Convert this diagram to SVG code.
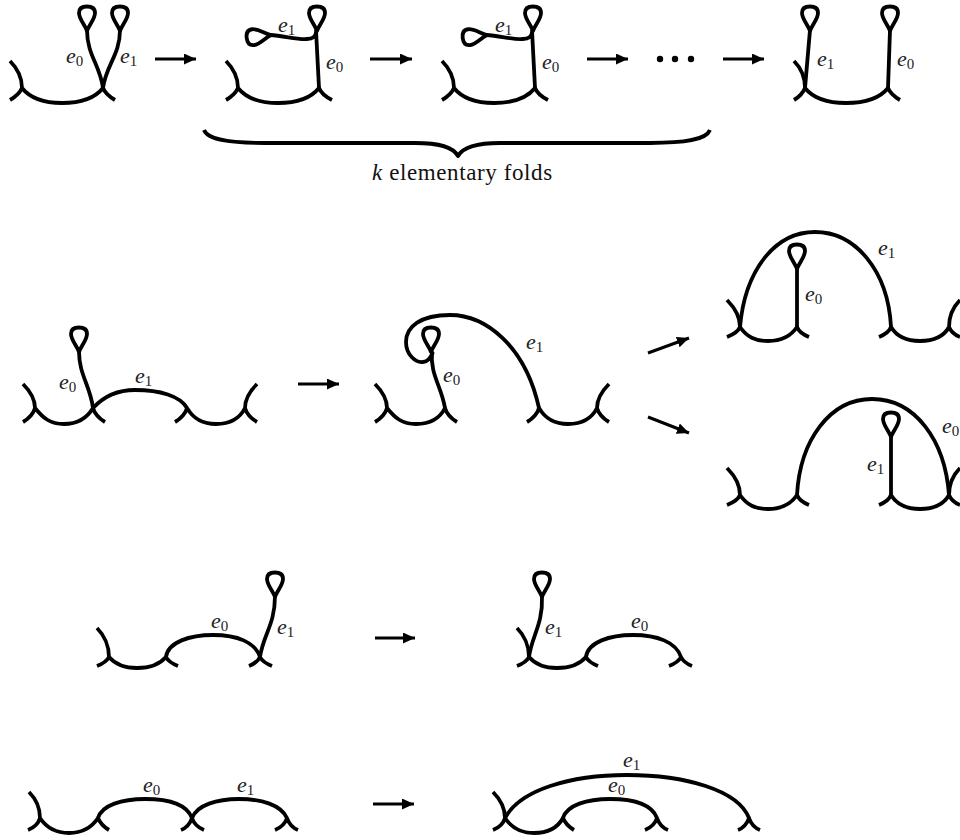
<svg xmlns="http://www.w3.org/2000/svg" width="960" height="840" viewBox="0 0 960 840">
<style>
.c{fill:none;stroke:#000;stroke-width:3.8;stroke-linecap:butt;stroke-linejoin:round}
.a{fill:none;stroke:#000;stroke-width:3;marker-end:url(#h)}
text{font-family:"Liberation Serif","Times New Roman",serif;fill:#222}
.l{font-size:22px;font-style:italic}
.l tspan{font-size:15px;font-style:normal}
.t{font-size:23px;letter-spacing:.6px;fill:#111}
</style>
<defs>
<marker id="h" markerUnits="userSpaceOnUse" markerWidth="13" markerHeight="12" refX="12" refY="5.5" orient="auto"><path d="M0,0L12,5.5L0,11Z" fill="#000"/></marker>
<path id="v" d="M0,0C-2,-6 -8,-12 -8,-18C-8,-23 -5,-24.500 0,-24.500C5,-24.500 8,-23 8,-18C8,-12 2,-6 0,0Z" class="c"/>
</defs>
<g id="connectors">
<path class="a" d="M155,59H196"/><path class="a" d="M370,59H412"/><path class="a" d="M587,59H628"/><path class="a" d="M723,59H764"/>
<path class="a" d="M298,384H339"/><path class="a" d="M648,353L689,338"/><path class="a" d="M648,417L689,433"/>
<path class="a" d="M375,638H415"/><path class="a" d="M373,804H414"/>
</g>
<g id="dots"><circle cx="660" cy="59" r="3.2"/><circle cx="675" cy="59" r="3.2"/><circle cx="691" cy="59" r="3.2"/></g>
<g id="brace"><path class="c" d="M204,130C208,140 230,143 265,143H415C440,143 453,147 458,156C463,147 476,143 500,143H650C685,143 706,140 710,130"/>
<text class="t" x="372" y="180"><tspan font-style="italic">k</tspan> elementary folds</text></g>

<g id="n1">
<path class="c" d="M10,61C17,68 22,77 22,88M10,100C15,97 20,93 22,88C30,98 42,103 62,103C82,103 95,98 103,88C105,93 110,97 115,100"/>
<path class="c" d="M103,88C100,65 87,55 87,30M103,88C106,65 120,55 120,30"/>
<use href="#v" x="87" y="31"/><use href="#v" x="120" y="31"/>
<text class="l" x="66" y="63">e<tspan dy="3">0</tspan></text><text class="l" x="120" y="63">e<tspan dy="3">1</tspan></text>
</g>
<g id="n2">
<path class="c" d="M226,61C233,68 238,77 238,88M226,100C231,97 236,93 238,88C246,98 258,103 278,103C298,103 311,98 319,88C321,93 326,97 332,100"/>
<path class="c" d="M319,88L316,30M270,35C285,36 298,40 307,39C313,39 316,36 316,32"/>
<use href="#v" x="317" y="31"/><use href="#v" transform="translate(271,35) rotate(-97)"/>
<text class="l" x="278" y="32">e<tspan dy="3">1</tspan></text><text class="l" x="326" y="69">e<tspan dy="3">0</tspan></text>
</g>
<g id="n3">
<path class="c" d="M442,61C449,68 454,77 454,88M442,100C447,97 452,93 454,88C462,98 474,103 494,103C514,103 527,98 535,88C537,93 542,97 548,100"/>
<path class="c" d="M535,88L532,30M486,35C501,36 514,40 523,39C529,39 532,36 532,32"/>
<use href="#v" x="533" y="31"/><use href="#v" transform="translate(487,35) rotate(-97)"/>
<text class="l" x="495" y="32">e<tspan dy="3">1</tspan></text><text class="l" x="542" y="69">e<tspan dy="3">0</tspan></text>
</g>
<g id="n4">
<path class="c" d="M794,61C801,68 805,77 805,88M794,100C799,97 803,93 805,88C813,98 825,103 846,103C867,103 880,98 888,88C890,93 895,97 900,100"/>
<path class="c" d="M805,88L810,30M888,88L890,30"/>
<use href="#v" x="810" y="31"/><use href="#v" x="890" y="31"/>
<text class="l" x="817" y="66">e<tspan dy="3">1</tspan></text><text class="l" x="897" y="66">e<tspan dy="3">0</tspan></text>
</g>

<g id="n5">
<path class="c" d="M23,384C30,391 35,399 35,408M23,422C28,419 33,415 35,408C43,418 50,424 64,424C78,424 87,418 93,408C95,415 100,419 105,422"/>
<path class="c" d="M93,408C105,395 120,390 135,390C160,390 180,396 187,408M175,422C180,419 185,415 187,408C193,418 201,424 216,424C231,424 240,418 245,408C247,415 252,419 257,422M257,384C250,391 245,399 245,408"/>
<path class="c" d="M93,408C90,385 79,375 79,351"/>
<use href="#v" x="79" y="352"/>
<text class="l" x="59" y="389">e<tspan dy="3">0</tspan></text><text class="l" x="135" y="383">e<tspan dy="3">1</tspan></text>
</g>
<g id="n6">
<path class="c" d="M375,384C382,391 387,399 387,408M375,422C380,419 385,415 387,408C395,418 402,424 416,424C430,424 440,418 445,408C447,415 452,419 457,422"/>
<path class="c" d="M445,408C441,385 430,375 432,351"/>
<use href="#v" x="431" y="352"/>
<path class="c" d="M539,408C525,345 485,315 450,315C420,315 406,327 406,342C406,355 416,363 423,362C428,362 431,357 433,352"/>
<path class="c" d="M527,422C532,419 537,415 539,408C545,418 553,424 568,424C583,424 592,418 597,408C599,415 604,419 609,422M609,384C602,391 597,399 597,408"/>
<text class="l" x="443" y="382">e<tspan dy="3">0</tspan></text><text class="l" x="526" y="349">e<tspan dy="3">1</tspan></text>
</g>
<g id="n7">
<path class="c" d="M727,300C734,307 740,316 740,327M727,337C732,335 738,332 740,327C747,337 755,341 768,341C781,341 791,336 797,327C799,332 804,335 809,337"/>
<path class="c" d="M797,327V268"/><use href="#v" x="797" y="269"/>
<path class="c" d="M740,327C745,270 775,232 815,232C855,232 888,270 891,327"/>
<path class="c" d="M879,337C884,335 889,332 891,327C897,337 906,341 920,341C934,341 944,336 949,327C951,332 955,335 960,337M960,300C953,307 949,316 949,327"/>
<text class="l" x="878" y="255">e<tspan dy="3">1</tspan></text><text class="l" x="805" y="301">e<tspan dy="3">0</tspan></text>
</g>
<g id="n8">
<path class="c" d="M727,468C734,475 740,484 740,495M727,505C732,503 738,500 740,495C747,505 755,509 768,509C781,509 791,504 797,495C799,500 804,503 809,505"/>
<path class="c" d="M797,495C800,440 830,399 872,399C915,399 945,440 949,495"/>
<path class="c" d="M891,495V436"/><use href="#v" x="891" y="437"/>
<path class="c" d="M879,505C884,503 889,500 891,495C897,505 906,509 920,509C934,509 944,504 949,495C951,500 955,503 960,505M960,468C953,475 949,484 949,495"/>
<text class="l" x="942" y="433">e<tspan dy="3">0</tspan></text><text class="l" x="867" y="471">e<tspan dy="3">1</tspan></text>
</g>
<g id="n9">
<path class="c" d="M97,628C104,635 109,646 109,657M97,666C102,664 107,661 109,657C115,664 124,668 137,668C150,668 160,664 166,657C168,661 173,664 178,666"/>
<path class="c" d="M166,657C168,642 190,635 213,635C237,635 255,642 260,657M249,666C254,664 258,661 260,657C262,661 267,664 272,666"/>
<path class="c" d="M260,657C263,635 275,625 275,596"/><use href="#v" x="275" y="597"/>
<text class="l" x="211" y="628">e<tspan dy="3">0</tspan></text><text class="l" x="277" y="634">e<tspan dy="3">1</tspan></text>
</g>
<g id="n10">
<path class="c" d="M517,628C524,635 529,646 529,657M517,666C522,664 527,661 529,657C535,664 544,668 557,668C570,668 580,664 586,657C588,661 593,664 598,666"/>
<path class="c" d="M529,657C532,635 543,625 542,596"/><use href="#v" x="542" y="597"/>
<path class="c" d="M586,657C588,642 610,635 633,635C657,635 676,642 681,657M669,666C674,664 679,661 681,657C683,661 687,664 692,666"/>
<text class="l" x="545" y="634">e<tspan dy="3">1</tspan></text><text class="l" x="631" y="628">e<tspan dy="3">0</tspan></text>
</g>
<g id="n11">
<path class="c" d="M29,792C36,799 40,808 40,818M28,830C33,828 38,825 40,818C46,827 55,833 69,833C83,833 92,827 98,818C100,823 104,827 109,830"/>
<path class="c" d="M98,818C102,805 122,799 145,799C170,799 187,805 192,818M181,830C186,828 190,824 192,818C194,824 199,828 204,830"/>
<path class="c" d="M192,818C197,805 217,799 239,799C262,799 281,805 287,818M275,830C280,828 285,824 287,818C289,824 293,828 298,830"/>
<text class="l" x="143" y="792">e<tspan dy="3">0</tspan></text><text class="l" x="237" y="792">e<tspan dy="3">1</tspan></text>
</g>
<g id="n12">
<path class="c" d="M493,792C500,799 505,807 505,818M493,830C498,828 503,825 505,818C511,827 520,833 534,833C548,833 558,827 563,818C565,823 569,827 574,830"/>
<path class="c" d="M505,818C520,790 570,775 627,775C685,775 738,790 749,818"/>
<path class="c" d="M563,818C567,805 587,799 610,799C635,799 652,805 657,818M645,830C650,828 655,824 657,818C659,824 663,828 668,830"/>
<path class="c" d="M738,830C743,828 747,824 749,818C751,824 755,828 760,830"/>
<text class="l" x="623" y="767">e<tspan dy="3">1</tspan></text><text class="l" x="608" y="792">e<tspan dy="3">0</tspan></text>
</g>
</svg>
